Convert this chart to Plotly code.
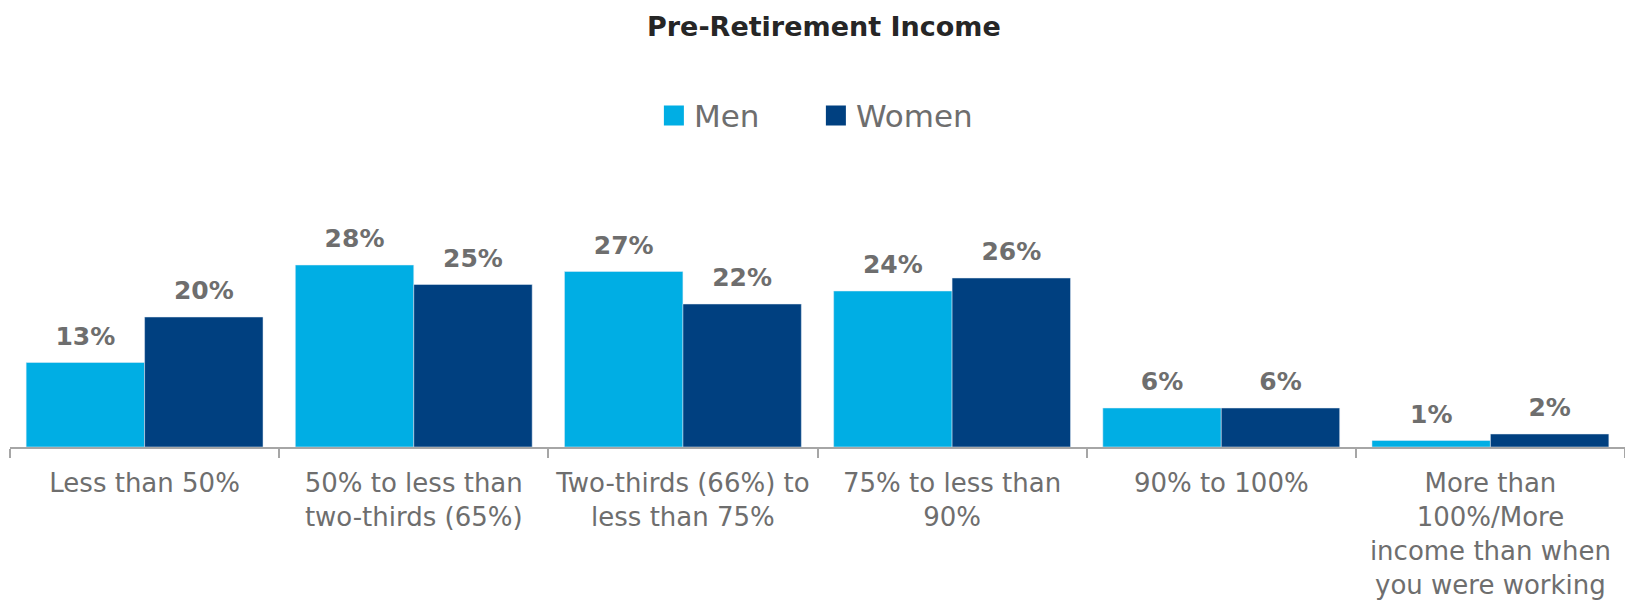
import plotly.graph_objects as go

categories = ["Less than 50%", "50% to less than<br>two-thirds (65%)", "Two-thirds (66%) to<br>less than 75%",
              "75% to less than<br>90%", "90% to 100%", "More than<br>100%/More<br>income than when<br>you were working"]
men = [13, 28, 27, 24, 6, 1]
women = [20, 25, 22, 26, 6, 2]
series_names = ["Men", "Women"]
colors = ["#00AEE4", "#004080"]

FONT = "Century Gothic, DejaVu Sans, sans-serif"
LABEL = "#6e6e6e"
fig = go.Figure()
for name, vals, col in zip(series_names, [men, women], colors):
    fig.add_trace(go.Bar(name=name, x=categories, y=vals, marker_color=col, showlegend=False,
                         texttemplate="<span style='font-size:25px'><b>%{y}%</b></span><br> ",
                         textposition="outside", cliponaxis=False,
                         textfont=dict(family=FONT, size=10, color=LABEL)))
for name, col in zip(series_names, colors):
    fig.add_trace(go.Scatter(name=name, x=[None], y=[None], mode="markers",
                             marker=dict(symbol="square", size=16, color=col, line=dict(color=col, width=4))))
fig.update_layout(
    width=1625, height=606,
    barmode="group", bargap=0.12, bargroupgap=0,
    plot_bgcolor="white", paper_bgcolor="white",
    margin=dict(l=10, r=0, t=252, b=159),
    font=dict(family=FONT, color=LABEL),
    title=dict(text="<b>Pre-Retirement Income</b>", x=0.507, xanchor="center", y=0.957, yanchor="middle",
               font=dict(family=FONT, size=27, color="#262626")),
    legend=dict(orientation="h", x=0.499, xanchor="center", y=0.809, yref="container", yanchor="middle",
                font=dict(family=FONT, size=31, color=LABEL), itemwidth=30,
                entrywidth=117, entrywidthmode="pixels", itemsizing="trace"),
    showlegend=True,
)
fig.update_xaxes(showline=True, linecolor="#a6a6a6", linewidth=2, ticks="outside", tickson="boundaries",
                 ticklen=9, tickcolor="#a6a6a6", tickwidth=2, ticklabelstandoff=12,
                 tickfont=dict(family=FONT, size=26, color=LABEL))
fig.update_yaxes(visible=False, range=[0, 30])
fig.write_html("out.html", config={"displayModeBar": False},
               post_script="document.body.style.margin='0';")
